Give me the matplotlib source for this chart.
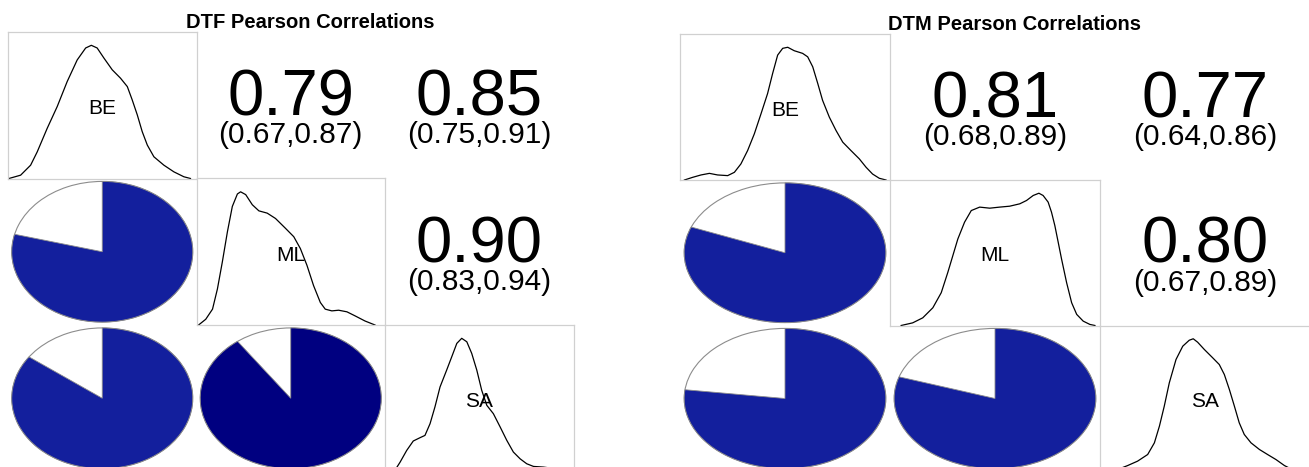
import numpy as np
import matplotlib
matplotlib.use("Agg")
import matplotlib.pyplot as plt
from matplotlib.patches import Wedge
from matplotlib.colors import LinearSegmentedColormap

plt.rcParams["font.family"] = ["Liberation Sans", "DejaVu Sans"]

# ── Data ──────────────────────────────────────────────────────────────────────
VARS = ["BE", "ML", "SA"]
# pair order: BE-ML, BE-SA, ML-SA
DTF_R  = [0.79, 0.85, 0.90]
DTF_LO = [0.67, 0.75, 0.83]
DTF_HI = [0.87, 0.91, 0.94]
DTM_R  = [0.81, 0.77, 0.80]
DTM_LO = [0.68, 0.64, 0.67]
DTM_HI = [0.89, 0.86, 0.89]

# density curves (x scaled 0-1, peak = 1)
DTF_BE_X = [0.005, 0.067, 0.120, 0.155, 0.208, 0.261, 0.314, 0.367, 0.412, 0.442, 0.473, 0.509,
            0.553, 0.597, 0.633, 0.659, 0.686, 0.712, 0.739, 0.774, 0.827, 0.880, 0.933, 0.968]
DTF_BE_Y = [0.0, 0.025, 0.10, 0.20, 0.377, 0.54, 0.728, 0.89, 0.98, 1.0, 0.98, 0.904,
            0.816, 0.753, 0.69, 0.59, 0.477, 0.352, 0.251, 0.163, 0.10, 0.05, 0.013, 0.0]
DTF_ML_X = [0.011, 0.049, 0.085, 0.111, 0.137, 0.164, 0.190, 0.217, 0.234, 0.261, 0.296, 0.331,
            0.375, 0.419, 0.472, 0.516, 0.551, 0.586, 0.621, 0.657, 0.683, 0.718, 0.754, 0.798,
            0.842, 0.894, 0.947]
DTF_ML_Y = [0.0, 0.043, 0.119, 0.271, 0.473, 0.70, 0.89, 0.984, 1.0, 0.979, 0.903, 0.857,
            0.84, 0.80, 0.726, 0.663, 0.574, 0.448, 0.296, 0.169, 0.119, 0.106, 0.111, 0.099,
            0.068, 0.030, 0.0]
DTF_SA_X = [0.044, 0.062, 0.080, 0.115, 0.150, 0.186, 0.212, 0.239, 0.265, 0.292, 0.327, 0.354,
            0.381, 0.407, 0.434, 0.460, 0.487, 0.513, 0.540, 0.575, 0.611, 0.646, 0.681, 0.717,
            0.752, 0.788, 0.841, 0.894, 0.938]
DTF_SA_Y = [0.0, 0.030, 0.070, 0.158, 0.229, 0.254, 0.271, 0.359, 0.485, 0.635, 0.761, 0.861,
            0.962, 1.0, 0.974, 0.887, 0.761, 0.610, 0.497, 0.434, 0.334, 0.234, 0.146, 0.095,
            0.058, 0.038, 0.033, 0.023, 0.0]
DTM_BE_X = [0.021, 0.060, 0.100, 0.140, 0.179, 0.227, 0.259, 0.290, 0.322, 0.354, 0.386, 0.417,
            0.441, 0.465, 0.489, 0.513, 0.544, 0.584, 0.608, 0.632, 0.656, 0.679, 0.711, 0.743,
            0.775, 0.814, 0.854, 0.886, 0.917, 0.949, 0.981]
DTM_BE_Y = [0.0, 0.020, 0.038, 0.050, 0.038, 0.033, 0.058, 0.121, 0.222, 0.348, 0.50, 0.651,
            0.802, 0.941, 0.992, 1.0, 0.974, 0.954, 0.928, 0.853, 0.727, 0.60, 0.474, 0.373,
            0.285, 0.222, 0.159, 0.096, 0.045, 0.013, 0.0]
DTM_ML_X = [0.053, 0.108, 0.156, 0.204, 0.244, 0.275, 0.299, 0.323, 0.355, 0.387, 0.427, 0.475,
            0.522, 0.570, 0.618, 0.650, 0.682, 0.709, 0.729, 0.753, 0.769, 0.785, 0.801, 0.817,
            0.841, 0.865, 0.889, 0.920, 0.952, 0.976]
DTM_ML_Y = [0.0, 0.020, 0.058, 0.134, 0.248, 0.40, 0.527, 0.654, 0.781, 0.869, 0.895, 0.887,
            0.895, 0.902, 0.92, 0.945, 0.983, 1.0, 0.983, 0.933, 0.857, 0.755, 0.629, 0.502,
            0.324, 0.172, 0.084, 0.033, 0.008, 0.0]
DTM_SA_X = [0.060, 0.132, 0.179, 0.227, 0.259, 0.283, 0.306, 0.330, 0.362, 0.394, 0.425, 0.444,
            0.465, 0.497, 0.537, 0.568, 0.592, 0.616, 0.640, 0.663, 0.687, 0.719, 0.759, 0.798,
            0.838, 0.878, 0.933]
DTM_SA_Y = [0.0, 0.045, 0.078, 0.128, 0.216, 0.342, 0.492, 0.668, 0.844, 0.944, 0.989, 1.0,
            0.974, 0.919, 0.856, 0.806, 0.731, 0.618, 0.492, 0.367, 0.279, 0.216, 0.166, 0.128,
            0.090, 0.045, 0.0]

# ── Layout (pixels) ───────────────────────────────────────────────────────────
W, H = 1309, 467
PANELS = [
    dict(title="DTF Pearson Correlations", title_x=310, title_y=28,
         cols=[8, 196.5, 385, 573.5], rows=[32, 178.5, 325, 471.5],
         r=DTF_R, lo=DTF_LO, hi=DTF_HI,
         dens=[(DTF_BE_X, DTF_BE_Y), (DTF_ML_X, DTF_ML_Y), (DTF_SA_X, DTF_SA_Y)]),
    dict(title="DTM Pearson Correlations", title_x=1014, title_y=30,
         cols=[680, 890, 1100, 1310], rows=[34, 180, 325.5, 471.5],
         r=DTM_R, lo=DTM_LO, hi=DTM_HI,
         dens=[(DTM_BE_X, DTM_BE_Y), (DTM_ML_X, DTM_ML_Y), (DTM_SA_X, DTM_SA_Y)]),
]
PAIR = {(0, 1): 0, (0, 2): 1, (1, 2): 2}

# corrgram default palette, 14 bins
ramp = LinearSegmentedColormap.from_list(
    "cg", ["red", "salmon", "white", "royalblue", "navy"])
NCOL = 14


def pie_color(r):
    k = min(int((r + 1) / 2 * NCOL), NCOL - 1)
    return ramp(k / (NCOL - 1))


def cell_ax(fig, cols, rows, i, j):
    x0, x1 = cols[j], cols[j + 1]
    y0, y1 = rows[i], rows[i + 1]
    return fig.add_axes([x0 / W, 1 - y1 / H, (x1 - x0) / W, (y1 - y0) / H])


fig = plt.figure(figsize=(W / 100, H / 100), dpi=100)

for p in PANELS:
    fig.text(p["title_x"] / W, 1 - p["title_y"] / H, p["title"],
             ha="center", va="baseline", fontsize=14.5, fontweight="bold")
    for i in range(3):
        for j in range(3):
            ax = cell_ax(fig, p["cols"], p["rows"], i, j)
            ax.set_xlim(0, 1)
            ax.set_xticks([])
            ax.set_yticks([])
            if i == j:
                dx, dy = p["dens"][i]
                ax.set_ylim(0, 1.1)
                ax.plot(dx, dy, color="black", lw=0.9)
                for s in ax.spines.values():
                    s.set_color("#d0d0d0")
                    s.set_linewidth(0.9)
                ax.text(0.5, 0.44, VARS[i], transform=ax.transAxes,
                        ha="center", va="baseline", fontsize=15)
            elif i < j:
                k = PAIR[(i, j)]
                ax.set_ylim(0, 1)
                ax.axis("off")
                ax.text(0.5, 0.43, f"{p['r'][k]:.2f}", ha="center", va="baseline",
                        fontsize=47)
                ax.text(0.5, 0.24, f"({p['lo'][k]:.2f},{p['hi'][k]:.2f})",
                        ha="center", va="baseline", fontsize=21.5)
            else:
                k = PAIR[(j, i)]
                r = p["r"][k]
                ax.set_ylim(0, 1)
                ax.axis("off")
                ax.add_patch(Wedge((0.5, 0.5), 0.48, 0, 360, facecolor="white",
                                   edgecolor="#8c8c8c", lw=0.8))
                ax.add_patch(Wedge((0.5, 0.5), 0.48, 90 - 360 * r, 90,
                                   facecolor=pie_color(r), edgecolor="#8c8c8c", lw=0.6))

fig.savefig("out.png", dpi=100)
